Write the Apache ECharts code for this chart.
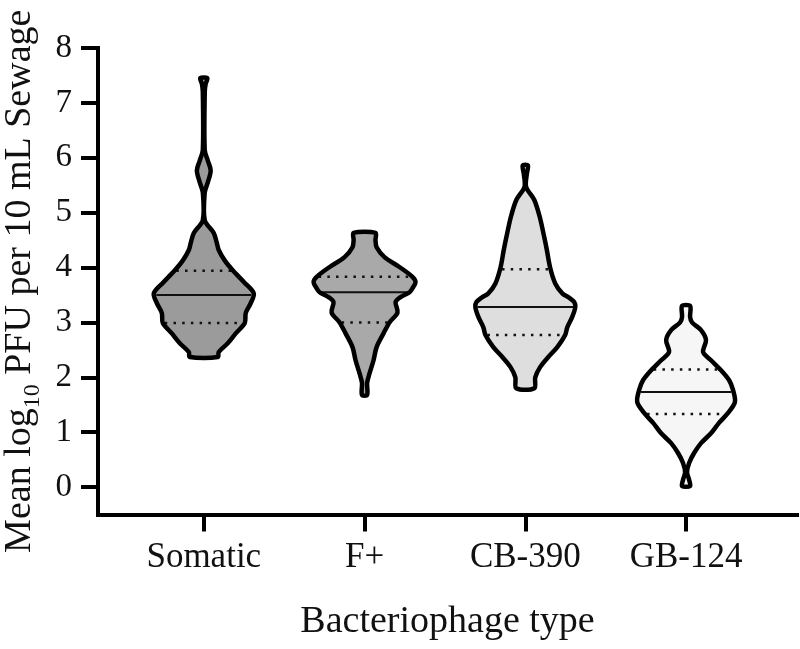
<!DOCTYPE html>
<html><head><meta charset="utf-8">
<script src="https://cdn.jsdelivr.net/npm/echarts@6/dist/echarts.min.js"></script>
<style>html,body{margin:0;padding:0;background:#fff}#c{width:800px;height:649px}</style>
</head><body><div id="c"></div>
<script>
const categories = ['Somatic', 'F+', 'CB-390', 'GB-124'];
const yTicks = [0, 1, 2, 3, 4, 5, 6, 7, 8];
const xTicks = [0, 1, 2, 3];
// violin outlines: [log10 value, half-width as fraction of category spacing]
const somaticShape = [[2.37,.087],[2.46,.093],[2.62,.149],[2.80,.199],[2.99,.255],[3.17,.261],[3.35,.292],[3.53,.311],[3.72,.255],[3.95,.180],[4.13,.130],[4.32,.093],[4.45,.081],[4.63,.062],[4.86,.006],[5.37,.006],[5.55,.025],[5.77,.043],[5.95,.025],[6.14,.006],[7.20,.006],[7.35,.012],[7.45,.022]];
const fplusShape = [[1.68,.016],[1.90,.016],[2.07,.031],[2.31,.056],[2.55,.075],[2.80,.118],[3.00,.155],[3.18,.205],[3.37,.193],[3.46,.224],[3.55,.280],[3.62,.298],[3.73,.317],[3.83,.298],[4.01,.217],[4.19,.124],[4.37,.075],[4.50,.068],[4.63,.068]];
const cb390Shape = [[1.80,.056],[2.00,.062],[2.19,.093],[2.37,.143],[2.55,.199],[2.77,.248],[2.91,.261],[3.10,.292],[3.28,.311],[3.37,.304],[3.45,.273],[3.53,.230],[3.71,.186],[3.99,.155],[4.32,.134],[4.55,.118],[4.92,.090],[5.23,.056],[5.47,.005],[5.70,.009],[5.86,.016]];
const gb124Shape = [[0.02,.025],[0.13,.019],[0.27,.006],[0.44,.019],[0.62,.050],[0.80,.093],[0.98,.155],[1.17,.205],[1.35,.261],[1.55,.304],[1.77,.292],[1.95,.267],[2.13,.217],[2.31,.155],[2.46,.106],[2.68,.124],[2.86,.093],[3.00,.037],[3.10,.025],[3.30,.025]];
const medians = [3.50, 3.55, 3.28, 1.73];
const q1 = [2.99, 3.00, 2.77, 1.33];
const q3 = [3.94, 3.83, 3.97, 2.14];

const shapes = [somaticShape, fplusShape, cb390Shape, gb124Shape];
const fills = ['#9b9b9b', '#a9a9a9', '#dedede', '#f6f6f6'];
const FONT = '"Liberation Serif", "Times New Roman", serif';

function halfAt(shape, v) {
  for (let i = 0; i < shape.length - 1; i++) {
    const a = shape[i], b = shape[i + 1];
    if (v >= a[0] && v <= b[0]) return a[1] + (b[1] - a[1]) * (v - a[0]) / (b[0] - a[0]);
  }
  return 0;
}

function violin(idx) {
  const shape = shapes[idx];
  return {
    type: 'custom',
    data: [[idx]],
    clip: false,
    renderItem: function (params, api) {
      const c = api.value(0);
      const right = shape.map(p => api.coord([c + p[1], p[0]]));
      const left = shape.slice().reverse().map(p => api.coord([c - p[1], p[0]]));
      const pts = right.concat(left);
      const children = [{ type: 'polygon', shape: { points: pts, smooth: 0.3 }, style: { fill: fills[idx], stroke: null } }];
      const addLine = (v, dashed) => {
        const w = halfAt(shape, v);
        const p1 = api.coord([c - w, v]), p2 = api.coord([c + w, v]);
        children.push({ type: 'line', shape: { x1: p1[0] + 2, y1: p1[1], x2: p2[0] - 2, y2: p2[1] },
          style: dashed ? { stroke: '#111', lineWidth: 2.5, lineDash: [2.5, 6.2] } : { stroke: '#111', lineWidth: 2 } });
      };
      addLine(medians[idx], false);
      addLine(q1[idx], true);
      addLine(q3[idx], true);
      children.push({ type: 'polygon', shape: { points: pts, smooth: 0.3 }, style: { fill: null, stroke: '#000', lineWidth: 4.5, lineJoin: 'round' } });
      return { type: 'group', children };
    }
  };
}

const chart = echarts.init(document.getElementById('c'));
chart.setOption({
  animation: false,
  backgroundColor: '#fff',
  grid: { left: 98, right: 3, top: 48, bottom: 134.5, containLabel: false, outerBoundsMode: 'none' },
  xAxis: {
    type: 'value', min: -0.658, max: 3.69,
    splitLine: { show: false },
    axisLine: { show: true, onZero: false, lineStyle: { color: '#000', width: 4, cap: 'square' } },
    axisTick: { show: true, customValues: xTicks, length: 17, lineStyle: { color: '#000', width: 4 } },
    axisLabel: { customValues: xTicks, formatter: v => categories[Math.round(v)], margin: 26, fontFamily: FONT, fontSize: 35, color: '#111' },
    name: 'Bacteriophage type', nameLocation: 'middle', nameGap: 89,
    nameTextStyle: { fontFamily: FONT, fontSize: 38, color: '#111' }
  },
  yAxis: {
    type: 'value', min: -0.5, max: 8,
    splitLine: { show: false },
    axisLine: { show: true, onZero: false, lineStyle: { color: '#000', width: 4, cap: 'square' } },
    axisTick: { show: true, customValues: yTicks, length: 17, lineStyle: { color: '#000', width: 4 } },
    axisLabel: { customValues: yTicks, margin: 26, fontFamily: FONT, fontSize: 33, color: '#111' },
    name: '{a|Mean log}{s|10}{a| PFU per 10 mL Sewage}', nameLocation: 'middle', nameGap: 48,
    nameTextStyle: {
      fontFamily: FONT, fontSize: 38, color: '#111',
      rich: {
        a: { fontFamily: FONT, fontSize: 38, color: '#111', verticalAlign: 'top' },
        s: { fontFamily: FONT, fontSize: 24, color: '#111', verticalAlign: 'top', padding: [20, 0, 0, 0] }
      }
    }
  },
  series: [violin(0), violin(1), violin(2), violin(3)]
});
</script></body></html>
